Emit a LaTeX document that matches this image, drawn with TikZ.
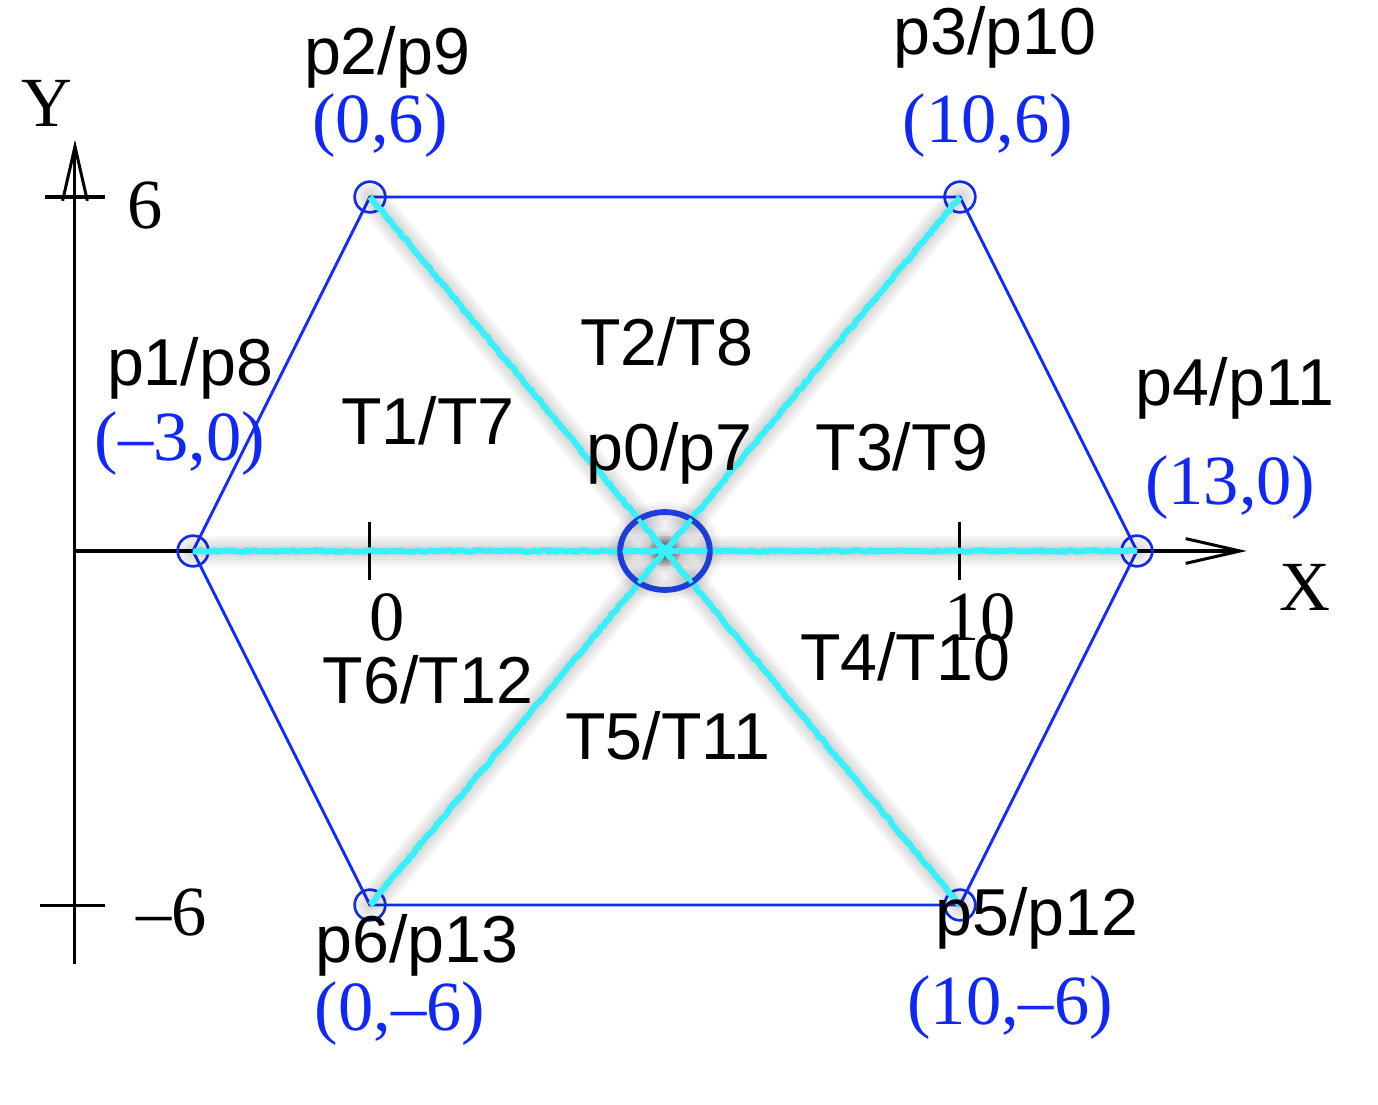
\documentclass[tikz,border=0pt]{standalone}
\usepackage{fontspec}
\setmainfont{Liberation Serif}
\setsansfont{Liberation Sans}
\usetikzlibrary{arrows.meta,shapes.geometric,calc,decorations.pathmorphing}
\definecolor{hexblue}{RGB}{20,45,240}
\definecolor{labblue}{RGB}{15,40,245}
\definecolor{cyanline}{RGB}{55,240,250}
\definecolor{ctrblue}{RGB}{30,60,215}
\begin{document}
\begin{tikzpicture}[x=1cm,y=1cm,
 ptlab/.style={font=\sffamily\fontsize{32}{32}\selectfont, anchor=base, inner sep=0},
 coordlab/.style={font=\fontsize{34}{34}\selectfont, text=labblue, anchor=base, inner sep=0},
 axlab/.style={font=\fontsize{34}{34}\selectfont, anchor=base, inner sep=0},
 vert/.style={circle, draw=hexblue, line width=1.3pt, minimum size=0.52cm, inner sep=0},
 hexedge/.style={draw=hexblue, line width=1.4pt},
 spoke/.style={draw=cyanline, line width=2.9pt, decorate, decoration={random steps, segment length=1.6pt, amplitude=0.45pt}},
 shadeline/.style={draw=black, line width=#1, opacity=0.035, line cap=round},
 axisline/.style={draw=black, line width=1.45pt},
 axarrow/.style={-{Straight Barb[length=0.92cm, width=0.42cm, line width=1.45pt]}},
]
\useasboundingbox (-6.271,-9.373) rectangle (17.085,9.339);
\pgfmathsetseed{7}

% axes
\coordinate (xo) at (-5,0);
\coordinate (xe) at (14.86,0);
\coordinate (yb) at (-5,-7);
\coordinate (ye) at (-5,6.97);
\draw[axisline,axarrow] (xo) -- (xe);
\draw[axisline,axarrow] (yb) -- (ye);
\coordinate (ty1a) at (-5.51,6); \coordinate (ty1b) at (-4.49,6);
\coordinate (ty2a) at (-5.59,-6); \coordinate (ty2b) at (-4.49,-6);
\coordinate (tx1a) at (0,0.49); \coordinate (tx1b) at (0,-0.49);
\coordinate (tx2a) at (10,0.49); \coordinate (tx2b) at (10,-0.49);
\draw[axisline] (ty1a) -- (ty1b);
\draw[axisline] (ty2a) -- (ty2b);
\draw[axisline] (tx1a) -- (tx1b);
\draw[axisline] (tx2a) -- (tx2b);

% vertices
\coordinate (c) at (5,0);
\node[vert] (p1) at (-3,0) {};
\node[vert] (p2) at (0,6) {};
\node[vert] (p3) at (10,6) {};
\node[vert] (p4) at (13,0) {};
\node[vert] (p5) at (10,-6) {};
\node[vert] (p6) at (0,-6) {};

% hexagon
\draw[hexedge] (p1.center) -- (p2.center) -- (p3.center) -- (p4.center) -- (p5.center) -- (p6.center) -- cycle;

% shadows of spokes
\foreach \v in {p1,p2,p3,p4,p5,p6}{
  \foreach \w in {0.52cm,0.42cm,0.32cm,0.22cm,0.12cm}{
    \draw[shadeline=\w, shift={(0.02,-0.3)}] (c) -- (\v.center);
  }
}
\foreach \w in {0.45cm,0.32cm,0.2cm}{
  \draw[shadeline=\w, shift={(0.03,-0.25)}] (c) ellipse [x radius=0.74, y radius=0.62];
}

% spokes
\foreach \v in {p1,p2,p3,p4,p5,p6}{
  \draw[spoke] (c) -- (\v.center);
}
\node[ellipse, draw=ctrblue, line width=2.8pt, minimum width=1.52cm, minimum height=1.32cm, inner sep=0] (p0) at (c) {};
\foreach \v in {p1,p2,p3,p4,p5,p6}{
  \draw[spoke, line width=2pt] (c) -- ($(c)!0.09!(\v.center)$);
}

% labels
\node[ptlab] (l2) at (0.29,8.07) {p2/p9};
\node[coordlab] (c2) at (0.17,6.93) {(0,6)};
\node[ptlab] (l3) at (10.59,8.41) {p3/p10};
\node[coordlab] (c3) at (10.47,6.93) {(10,6)};
\node[ptlab] (l1) at (-3.05,2.81) {p1/p8};
\node[coordlab] (c1) at (-3.22,1.54) {(–3,0)};
\node[ptlab] (l4) at (14.66,2.47) {p4/p11};
\node[coordlab] (c4) at (14.58,0.78) {(13,0)};
\node[ptlab] (l0) at (5.08,1.37) {p0/p7};
\node[ptlab] (t1) at (0.98,1.81) {T1/T7};
\node[ptlab] (t2) at (5.03,3.14) {T2/T8};
\node[ptlab] (t3) at (9.02,1.37) {T3/T9};
\node[ptlab] (t4) at (9.07,-2.19) {T4/T10};
\node[ptlab] (t5) at (5.05,-3.54) {T5/T11};
\node[ptlab] (t6) at (0.98,-2.58) {T6/T12};
\node[ptlab] (l6) at (0.8,-6.98) {p6/p13};
\node[coordlab] (c6) at (0.51,-8.12) {(0,–6)};
\node[ptlab] (l5) at (11.3,-6.51) {p5/p12};
\node[coordlab] (c5) at (10.85,-8.03) {(10,–6)};

\node[axlab] (ylab) at (-5.47,7.19) {Y};
\node[axlab] (y6) at (-3.81,5.47) {6};
\node[axlab] (ym6) at (-3.36,-6.51) {–6};
\node[axlab] (x0) at (0.29,-1.51) {0};
\node[axlab] (x10) at (10.34,-1.51) {10};
\node[axlab] (xlab) at (15.85,-1.0) {X};
\end{tikzpicture}
\end{document}
